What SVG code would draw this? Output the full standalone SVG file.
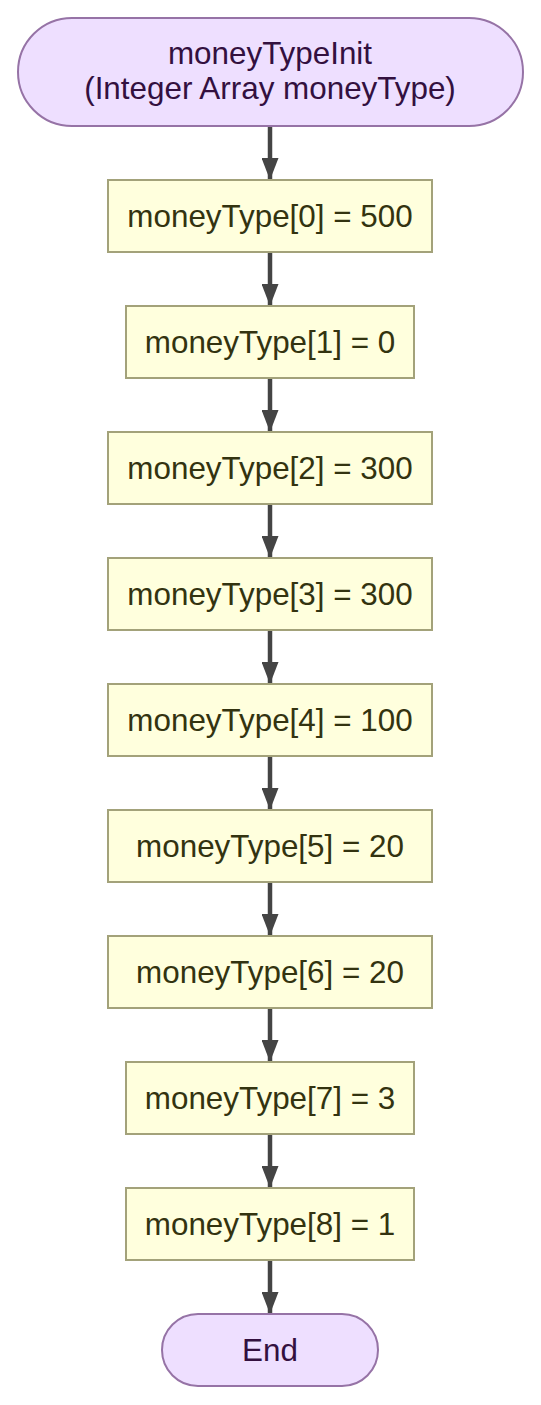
<svg xmlns="http://www.w3.org/2000/svg" width="541" height="1405" viewBox="0 0 541 1405">
<defs>
<style>
.term rect{fill:#eedfff;stroke:#9673a6;stroke-width:2}
.term text{fill:#33103f}
.proc rect{fill:#ffffdd;stroke:#a3a27a;stroke-width:2}
.proc text{fill:#333310}
text{font-family:"Liberation Sans",Arial,sans-serif;font-size:31.4px;text-anchor:middle}
.edge{stroke:#444444;stroke-width:4.5;fill:none}
</style>
<marker id="ah" markerUnits="userSpaceOnUse" markerWidth="22" markerHeight="17" refX="22" refY="8.5" orient="auto" viewBox="0 0 22 17">
<path d="M0,0 L22,8.5 L0,17 Z" fill="#444444"/>
</marker>
</defs>
<rect width="541" height="1405" fill="#ffffff"/>
<g id="connectors">
<line class="edge" x1="270" y1="126" x2="270" y2="180" marker-end="url(#ah)"/>
<line class="edge" x1="270" y1="252" x2="270" y2="306" marker-end="url(#ah)"/>
<line class="edge" x1="270" y1="378" x2="270" y2="432" marker-end="url(#ah)"/>
<line class="edge" x1="270" y1="504" x2="270" y2="558" marker-end="url(#ah)"/>
<line class="edge" x1="270" y1="630" x2="270" y2="684" marker-end="url(#ah)"/>
<line class="edge" x1="270" y1="756" x2="270" y2="810" marker-end="url(#ah)"/>
<line class="edge" x1="270" y1="882" x2="270" y2="936" marker-end="url(#ah)"/>
<line class="edge" x1="270" y1="1008" x2="270" y2="1062" marker-end="url(#ah)"/>
<line class="edge" x1="270" y1="1134" x2="270" y2="1188" marker-end="url(#ah)"/>
<line class="edge" x1="270" y1="1260" x2="270" y2="1314" marker-end="url(#ah)"/>
</g>
<g id="start" class="term">
<rect x="18" y="18" width="505" height="108" rx="54" ry="54"/>
<text x="270" y="64">moneyTypeInit</text>
<text x="270" y="99">(Integer Array moneyType)</text>
</g>
<g id="n0" class="proc"><rect x="108" y="180" width="324" height="72"/><text x="270" y="227">moneyType[0] = 500</text></g>
<g id="n1" class="proc"><rect x="126" y="306" width="288" height="72"/><text x="270" y="353">moneyType[1] = 0</text></g>
<g id="n2" class="proc"><rect x="108" y="432" width="324" height="72"/><text x="270" y="479">moneyType[2] = 300</text></g>
<g id="n3" class="proc"><rect x="108" y="558" width="324" height="72"/><text x="270" y="605">moneyType[3] = 300</text></g>
<g id="n4" class="proc"><rect x="108" y="684" width="324" height="72"/><text x="270" y="731">moneyType[4] = 100</text></g>
<g id="n5" class="proc"><rect x="108" y="810" width="324" height="72"/><text x="270" y="857">moneyType[5] = 20</text></g>
<g id="n6" class="proc"><rect x="108" y="936" width="324" height="72"/><text x="270" y="983">moneyType[6] = 20</text></g>
<g id="n7" class="proc"><rect x="126" y="1062" width="288" height="72"/><text x="270" y="1109">moneyType[7] = 3</text></g>
<g id="n8" class="proc"><rect x="126" y="1188" width="288" height="72"/><text x="270" y="1235">moneyType[8] = 1</text></g>
<g id="end" class="term">
<rect x="162" y="1314" width="216" height="72" rx="36" ry="36"/>
<text x="270" y="1361">End</text>
</g>
</svg>
